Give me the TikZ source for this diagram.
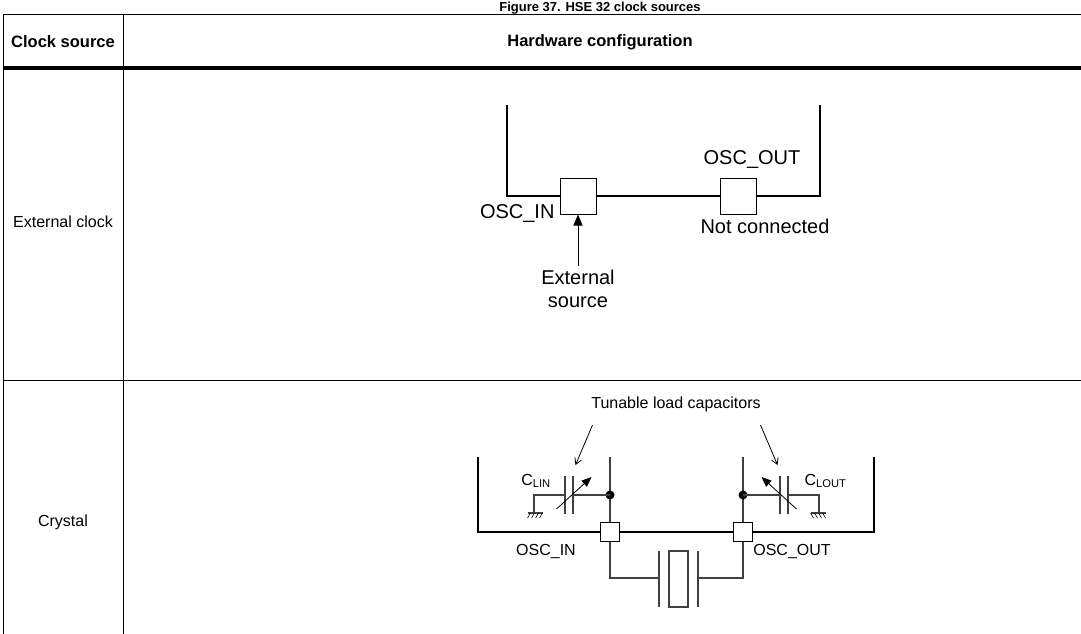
\documentclass[tikz,border=0pt]{standalone}
\usepackage{fontspec}
\setmainfont{Liberation Sans}
\usetikzlibrary{arrows.meta}
\begin{document}
\begin{tikzpicture}[x=1pt,y=-1pt,
  tl/.style={line width=1pt},
  th/.style={line width=1.8pt},
  w/.style={line width=1.2pt,draw=black!75},
  pin/.style={draw,fill=white,line width=1pt,minimum size=#1,inner sep=0pt},
  big/.style={font=\fontsize{20}{22}\selectfont},
  sm/.style={font=\fontsize{16}{18}\selectfont},
  hd/.style={font=\bfseries\fontsize{16.5}{19}\selectfont}]
\useasboundingbox (0,0) rectangle (1081,634);
\node[font=\bfseries\fontsize{13}{14}\selectfont,anchor=base] (title) at (600,12) {Figure 37. HSE 32 clock sources};
\draw[tl] (3,15) -- (1081,15);
\draw[tl] (3,15) -- (3,634);
\draw[tl] (123,15) -- (123,634);
\draw[line width=3.5pt] (3,68) -- (1081,68);
\draw[tl] (3,380) -- (1081,380);
\node[hd] (h1) at (63,42) {Clock source};
\node[hd] (h2) at (600,42) {Hardware configuration};
\node[font=\fontsize{16}{19}\selectfont] (r1) at (63,222) {External clock};
\node[font=\fontsize{16}{19}\selectfont] (r2) at (63,522) {Crystal};
% external clock
\draw[th] (507,105) -- (507,196) -- (820,196) -- (820,105);
\node[pin=36pt] (pi) at (578,196) {};
\node[pin=36pt] (po) at (738,196) {};
\node[big,anchor=east] (li) at (558,214) {OSC\_IN};
\node[big] (lo) at (752,160) {OSC\_OUT};
\node[big] (nc) at (765,226) {Not connected};
\node[big,align=center,font=\fontsize{20}{23}\selectfont] (es) at (578,289) {External\\source};
\coordinate (esT) at (578,266);
\draw[tl,-{Triangle[length=11pt,width=9pt]}] (esT) -- (pi.south);
% crystal
\node[sm] (tl) at (676,404) {Tunable load capacitors};
\draw[th] (478,457) -- (478,532) -- (874,532) -- (874,457);
\draw[w] (610,457) -- (610,578) -- (659,578);
\draw[w] (743,457) -- (743,578) -- (698,578);
\draw[w] (659,551) -- (659,607);
\draw[w] (698,551) -- (698,607);
\draw[w] (669,551) rectangle (688,607);
\node[pin=19pt] (ci) at (610,532) {};
\node[pin=19pt] (co) at (743,532) {};
\node[sm] (lci) at (546,551) {OSC\_IN};
\node[sm] (lco) at (792,551) {OSC\_OUT};
\fill (610,495) circle (4.5pt) (743,495) circle (4.5pt);
\foreach \s in {1,-1}{
  \begin{scope}[shift={(676.5,0)},xscale=\s]
    \draw[w] (-66.5,495) -- (-103.5,495);
    \draw[w] (-103.5,476) -- (-103.5,514);
    \draw[w] (-111.5,476) -- (-111.5,514);
    \draw[w] (-111.5,495) -- (-142.5,495) -- (-142.5,513);
    \draw[w] (-149,513) -- (-134,513);
    \foreach \k in {0,1,2,3} \draw[line width=0.6pt] (-149+\k*4,518) -- (-146+\k*4,513);
    \draw[line width=0.8pt,-{Triangle[length=10pt,width=8pt]}] (-120,509) -- (-85,477);
    \draw[line width=0.8pt,-{Straight Barb[length=6pt,width=7pt]}] (-84,425) -- (-101,465);
  \end{scope}}
\node[sm,anchor=base] (cl) at (536,485) {C\textsubscript{LIN}};
\node[sm,anchor=base west] (cr) at (801,485) {C\textsubscript{LOUT}};
\end{tikzpicture}
\end{document}
